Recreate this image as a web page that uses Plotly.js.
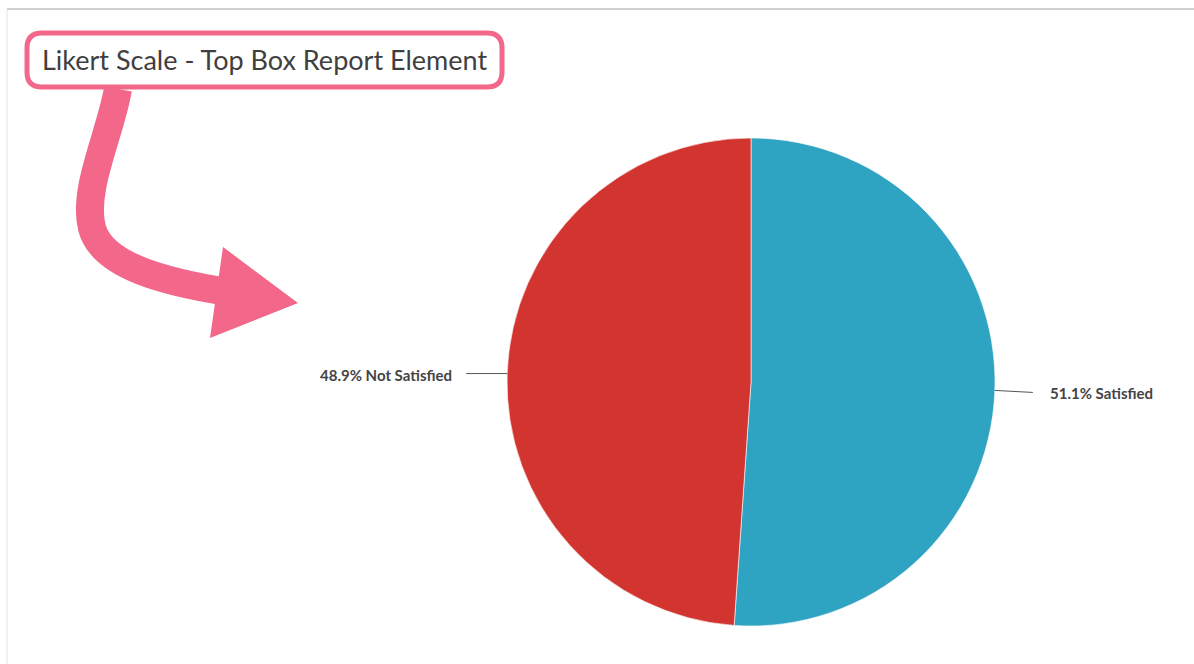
<!DOCTYPE html>
<html>
<head>
<meta charset="utf-8">
<script src="https://cdn.plot.ly/plotly-3.0.1.min.js"></script>
<style>
html,body{margin:0;padding:0;background:#fff;}
#chart{width:1194px;height:664px;}
</style>
</head>
<body>
<div id="chart"></div>
<script>
// ---- data ----
const categories = ['Satisfied', 'Not Satisfied'];
const values = [51.1, 48.9];
const colors = ['#2EA3C2', '#D23430'];
const chartTitle = 'Likert Scale - Top Box Report Element';

// ---- geometry (pixels) ----
const W = 1194, H = 664;
const cx = 751, cy = 382, R = 244;
const px = x => x / W;
const py = y => 1 - y / H;
const P = (x, y) => px(x).toFixed(5) + ',' + py(y).toFixed(5);

const total = values.reduce((a, b) => a + b, 0);

const trace = {
  type: 'pie',
  values: values,
  labels: categories,
  sort: false,
  direction: 'clockwise',
  rotation: 0,
  textinfo: 'none',
  hoverinfo: 'none',
  showlegend: false,
  marker: {colors: colors, line: {color: 'rgba(255,255,255,0.6)', width: 1}},
  domain: {x: [px(cx - R), px(cx + R)], y: [py(cy + R), py(cy - R)]}
};

// label positions derived from data angles
const shapes = [];
const annotations = [];
let cum = 0;
values.forEach((v, i) => {
  const mid = (cum + v / 2) / total * 2 * Math.PI; // clockwise from top
  cum += v;
  const ex = cx + R * Math.sin(mid);
  const ey = cy - R * Math.cos(mid);
  const right = Math.sin(mid) >= 0;
  const lx = ex + (right ? 38 : -41);
  const ly = ey + (right ? 2 : 0);
  shapes.push({type: 'line', xref: 'paper', yref: 'paper',
    x0: px(ex), y0: py(ey), x1: px(lx), y1: py(ly),
    line: {color: '#555', width: 1}});
  annotations.push({xref: 'paper', yref: 'paper',
    x: px(lx + (right ? 15 : -12)), y: py(ly + 1),
    xanchor: right ? 'left' : 'right', yanchor: 'middle',
    text: v.toFixed(1) + '% ' + categories[i], showarrow: false,
    font: {family: 'Lato', size: 15, color: '#444', weight: 'bold'}});
});

// title box
const bx0 = 27, by0 = 33, bx1 = 502, by1 = 87, r = 15;
shapes.push({type: 'path', xref: 'paper', yref: 'paper',
  path: 'M ' + P(bx0 + r, by0) + ' L ' + P(bx1 - r, by0) +
        ' Q ' + P(bx1, by0) + ' ' + P(bx1, by0 + r) +
        ' L ' + P(bx1, by1 - r) + ' Q ' + P(bx1, by1) + ' ' + P(bx1 - r, by1) +
        ' L ' + P(bx0 + r, by1) + ' Q ' + P(bx0, by1) + ' ' + P(bx0, by1 - r) +
        ' L ' + P(bx0, by0 + r) + ' Q ' + P(bx0, by0) + ' ' + P(bx0 + r, by0) + ' Z',
  line: {color: '#F2678A', width: 5}, fillcolor: 'rgba(0,0,0,0)'});

// curved arrow
shapes.push({type: 'path', xref: 'paper', yref: 'paper',
  path: 'M ' + P(118, 89) + ' C ' + P(110, 135) + ' ' + P(82, 190) + ' ' + P(92, 228) +
        ' C ' + P(102, 266) + ' ' + P(165, 282) + ' ' + P(228, 292),
  line: {color: '#F2678A', width: 28}, fillcolor: 'rgba(0,0,0,0)'});
shapes.push({type: 'path', xref: 'paper', yref: 'paper',
  path: 'M ' + P(223, 247) + ' L ' + P(298, 303) + ' L ' + P(210, 338) + ' Z',
  line: {color: '#F2678A', width: 0}, fillcolor: '#F2678A'});

// frame borders
shapes.push({type: 'line', xref: 'paper', yref: 'paper', x0: px(7), x1: 1, y0: py(9), y1: py(9),
  line: {color: '#cfcfcf', width: 2}});
shapes.push({type: 'line', xref: 'paper', yref: 'paper', x0: px(7), x1: px(7), y0: py(9), y1: 0,
  line: {color: '#e2e2e2', width: 1}});

annotations.push({xref: 'paper', yref: 'paper', x: px(264), y: py(59),
  xanchor: 'center', yanchor: 'middle', text: chartTitle, showarrow: false,
  font: {family: 'Lato', size: 27, color: '#3f3f3f'}});

const layout = {
  width: W, height: H,
  margin: {l: 0, r: 0, t: 0, b: 0},
  paper_bgcolor: '#fff', plot_bgcolor: '#fff',
  shapes: shapes, annotations: annotations
};

Plotly.newPlot('chart', [trace], layout, {displayModeBar: false, staticPlot: true});
</script>
</body>
</html>
